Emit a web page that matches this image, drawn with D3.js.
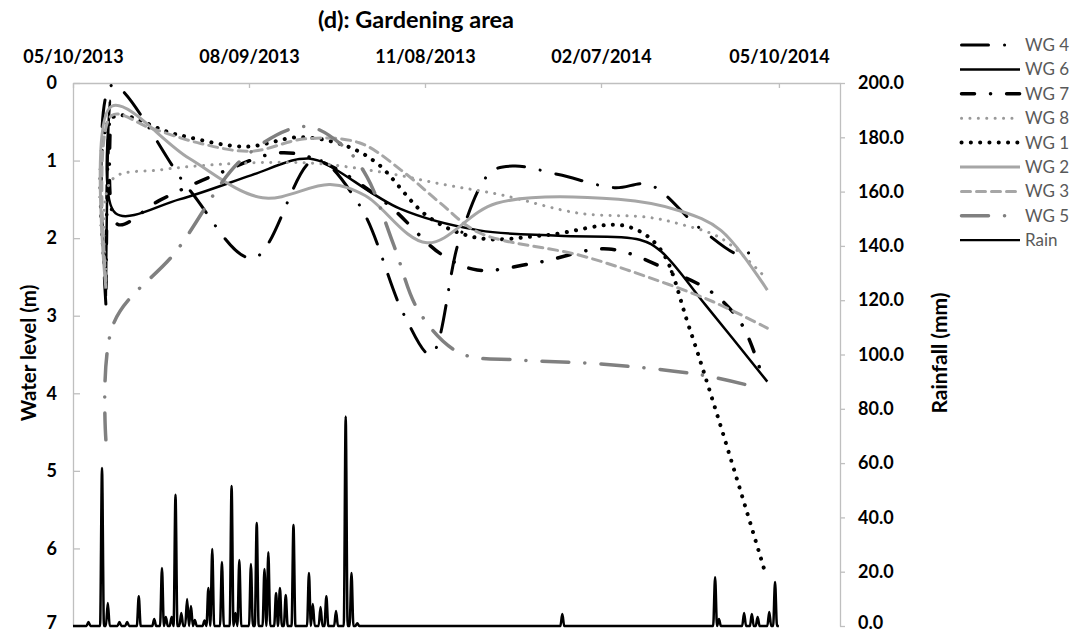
<!DOCTYPE html>
<html>
<head>
<meta charset="utf-8">
<script src="https://cdn.jsdelivr.net/npm/d3@7"></script>
<style>
  body { margin: 0; background: #fff; }
  svg { display: block; }
  text { font-family: Lato, "Open Sans", "DejaVu Sans", sans-serif; }
</style>
</head>
<body>
<svg id="chart" width="1082" height="632"></svg>
<script>
// ---- data -------------------------------------------------------------
const tickDates  = ["2013-05-10", "2013-08-09", "2013-11-08", "2014-02-07", "2014-05-10"];
const tickLabels = ["05/10/2013", "08/09/2013", "11/08/2013", "02/07/2014", "05/10/2014"];
const levelTicks = [0, 1, 2, 3, 4, 5, 6, 7];
const rainTicks  = [0, 20, 40, 60, 80, 100, 120, 140, 160, 180, 200];

// water level below ground (m), [date, level]
const wg4 = [["2013-05-27",2.85],["2013-05-30",0.03],["2013-07-09",1.37],["2013-08-11",2.26],
  ["2013-09-12",0.99],["2013-10-05",1.57],["2013-10-28",2.98],["2013-11-11",3.5],["2013-11-26",2.0],
  ["2013-12-12",1.15],["2013-12-24",1.07],["2014-01-16",1.18],["2014-02-14",1.35],["2014-03-04",1.31],
  ["2014-03-30",1.87],["2014-04-21",2.22],["2014-04-29",2.09]];
const wg6 = [["2013-05-27",2.75],["2013-05-29",0.23],["2013-06-01",1.68],["2013-07-04",1.5],
  ["2013-08-10",1.19],["2013-09-04",0.98],["2013-09-14",1.0],["2013-10-26",1.62],["2013-12-06",1.9],
  ["2014-01-16",1.97],["2014-02-27",2.02],["2014-03-10",2.17],["2014-04-02",2.86],["2014-05-04",3.85]];
const wg7 = [["2013-05-27",2.65],["2013-05-29",0.5],["2013-06-02",1.82],["2013-06-24",1.51],
  ["2013-07-25",1.16],["2013-08-25",0.9],["2013-09-16",1.02],["2013-10-19",1.55],["2013-11-16",2.2],
  ["2013-12-05",2.41],["2014-01-06",2.31],["2014-02-11",2.14],["2014-03-17",2.45],["2014-04-06",2.71],
  ["2014-04-21",3.12],["2014-05-02",3.83]];
const wg8 = [["2013-05-27",2.4],["2013-05-30",1.25],["2013-06-24",1.12],["2013-08-10",1.03],
  ["2013-09-14",1.04],["2013-10-19",1.16],["2013-11-18",1.31],["2013-12-17",1.44],["2014-01-27",1.68],
  ["2014-03-03",1.73],["2014-03-20",1.82],["2014-04-10",2.0],["2014-05-02",2.48]];
const wg1 = [["2013-05-27",2.55],["2013-05-30",0.45],["2013-07-02",0.66],["2013-08-07",0.82],
  ["2013-09-04",0.7],["2013-09-27",0.8],["2013-10-14",1.03],["2013-11-10",1.73],["2013-12-06",2.0],
  ["2014-01-10",1.96],["2014-02-19",1.84],["2014-03-09",2.12],["2014-03-25",3.18],["2014-05-03",6.32]];
const wg2 = [["2013-05-27",2.65],["2013-05-30",0.3],["2013-07-09",0.97],["2013-08-16",1.48],
  ["2013-09-20",1.31],["2013-10-08",1.45],["2013-11-09",2.06],["2013-12-15",1.55],["2014-02-16",1.5],
  ["2014-03-20",1.65],["2014-04-10",1.9],["2014-05-04",2.67]];
const wg3 = [["2013-05-27",2.55],["2013-05-30",0.42],["2013-06-19",0.58],["2013-07-15",0.78],
  ["2013-08-10",0.88],["2013-09-07",0.72],["2013-10-05",0.77],["2013-10-28",1.15],["2013-11-16",1.55],
  ["2013-12-06",1.93],["2014-01-27",2.22],["2014-03-03",2.5],["2014-04-06",2.82],["2014-05-04",3.16]];
const wg5 = [["2013-05-27",4.6],["2013-05-31",3.1],["2013-07-02",2.18],["2013-08-06",0.97],
  ["2013-09-07",0.56],["2013-09-27",0.82],["2013-10-09",1.21],["2013-10-23",2.1],["2013-11-05",2.95],
  ["2013-11-26",3.48],["2013-12-27",3.57],["2014-02-06",3.62],["2014-03-30",3.76],["2014-04-28",3.92]];

// daily rainfall (mm); days not listed were dry
const rainDates = ["2013-05-18","2013-05-25","2013-05-28","2013-06-03","2013-06-07","2013-06-13",
  "2013-06-21","2013-06-25","2013-06-27","2013-06-30","2013-07-02","2013-07-05","2013-07-08",
  "2013-07-10","2013-07-12","2013-07-17","2013-07-19","2013-07-21","2013-07-26","2013-07-31",
  "2013-08-02","2013-08-04","2013-08-10","2013-08-13","2013-08-17","2013-08-19","2013-08-23",
  "2013-08-25","2013-08-28","2013-09-01","2013-09-09","2013-09-11","2013-09-15","2013-09-18",
  "2013-09-23","2013-09-28","2013-10-01","2013-10-04","2014-01-18","2014-04-07","2014-04-09",
  "2014-04-22","2014-04-26","2014-04-29","2014-05-05","2014-05-08"];
const rainMm = [1.5,58.2,8.5,1.5,1.5,11,
  2.6,21.4,3.3,3.3,48.3,4.8,9.9,
  7.4,2.2,2,14,28.4,23.6,51.6,
  4.8,24.3,22.8,37.9,21,27.2,12.2,
  14,11.4,37.2,19.5,8.1,7,11,
  5.5,77.2,19.5,1,4.4,18,2.6,
  4.8,4.4,3.3,5.2,16.2];
const rainStart = "2013-05-10", rainEnd = "2014-05-10";

// ---- layout ------------------------------------------------------------
const svg = d3.select("#chart");
const parse = d3.utcParse("%Y-%m-%d");
const L = 73, R = 840, T = 83, B = 626;

const x = d3.scaleUtc()
  .domain([parse("2013-05-10"), new Date(Date.UTC(2014, 5, 10, 14))])
  .range([L, R]);
const yLevel = d3.scaleLinear().domain([0, 7]).range([T, B]);
const yRain = d3.scaleLinear().domain([0, 200]).range([B, T]);

const axisColor = "#bfbfbf";

// top date axis (ticks pointing into the plot)
const gx = svg.append("g").attr("transform", `translate(0,${T})`)
  .call(d3.axisTop(x)
    .tickValues(tickDates.map(parse))
    .tickFormat((d, i) => tickLabels[i])
    .tickSizeInner(-5).tickSizeOuter(0).tickPadding(20));
// left water-level axis
const gyl = svg.append("g").attr("transform", `translate(${L},0)`)
  .call(d3.axisLeft(yLevel).tickValues(levelTicks).tickFormat(d3.format("d"))
    .tickSizeInner(-7).tickSizeOuter(0).tickPadding(16));
// right rainfall axis
const gyr = svg.append("g").attr("transform", `translate(${R},0)`)
  .call(d3.axisRight(yRain).tickValues(rainTicks).tickFormat(d3.format(".1f"))
    .tickSizeInner(5).tickSizeOuter(0).tickPadding(13));

[gx, gyl, gyr].forEach(g => {
  g.select(".domain").attr("stroke", axisColor).attr("stroke-width", 1.3);
  g.selectAll(".tick line").attr("stroke", axisColor).attr("stroke-width", 1.3);
  g.selectAll(".tick text").attr("fill", "#000").attr("font-size", 18)
    .attr("font-weight", "bold").attr("font-family", "Lato, sans-serif");
});
// keep the labels at the bottom edge inside the page
gyl.selectAll(".tick text").filter(d => d === 7).attr("dy", "0.15em");
gyr.selectAll(".tick text").filter(d => d === 0).attr("dy", "0.15em");

// titles
svg.append("text").attr("x", 416).attr("y", 28).attr("text-anchor", "middle")
  .attr("font-size", 23.5).attr("font-weight", "bold").text("(d): Gardening area");
svg.append("text").attr("transform", "translate(36,353) rotate(-90)")
  .attr("text-anchor", "middle").attr("font-size", 20.5).attr("font-weight", "bold")
  .text("Water level (m)");
svg.append("text").attr("transform", "translate(947,353) rotate(-90)")
  .attr("text-anchor", "middle").attr("font-size", 21).attr("font-weight", "bold")
  .text("Rainfall (mm)");

// ---- series ------------------------------------------------------------
const series = [
  { name: "WG 4", data: wg4, color: "#000",    width: 3,   dash: "27 16 0.1 16" },
  { name: "WG 6", data: wg6, color: "#000",    width: 2.5, dash: null },
  { name: "WG 7", data: wg7, color: "#000",    width: 3.5, dash: "13 16 0.1 16" },
  { name: "WG 8", data: wg8, color: "#999999", width: 3,   dash: "0.1 8.3" },
  { name: "WG 1", data: wg1, color: "#000",    width: 4,   dash: "0.1 9.2" },
  { name: "WG 2", data: wg2, color: "#a6a6a6", width: 3,   dash: null },
  { name: "WG 3", data: wg3, color: "#a6a6a6", width: 3,   dash: "9 6" },
  { name: "WG 5", data: wg5, color: "#808080", width: 3.5, dash: "27 16 0.1 16" }
];

const levelLine = d3.line()
  .x(d => x(parse(d[0])))
  .y(d => yLevel(d[1]))
  .curve(d3.curveCatmullRom.alpha(0.5));

const plot = svg.append("g");
series.forEach(s => {
  plot.append("path")
    .attr("d", levelLine(s.data))
    .attr("fill", "none")
    .attr("stroke", s.color)
    .attr("stroke-width", s.width)
    .attr("stroke-linecap", s.dash ? "round" : "butt")
    .attr("stroke-linejoin", "round")
    .attr("stroke-dasharray", s.dash);
});

// rainfall as a daily series
const rainByDay = new Map(rainDates.map((d, i) => [d, rainMm[i]]));
const fmt = d3.utcFormat("%Y-%m-%d");
const rainDaily = d3.utcDay.range(parse(rainStart), d3.utcDay.offset(parse(rainEnd), 1))
  .map(d => [d, rainByDay.get(fmt(d)) || 0]);
const rainLine = d3.line()
  .x(d => x(d[0]))
  .y(d => yRain(d[1]))
  .curve(d3.curveMonotoneX);
plot.append("path")
  .attr("d", rainLine(rainDaily))
  .attr("fill", "none")
  .attr("stroke", "#000")
  .attr("stroke-width", 2.5)
  .attr("stroke-linejoin", "round");

// ---- legend ------------------------------------------------------------
const legendItems = series.concat([{ name: "Rain", color: "#000", width: 2.2, dash: null }]);
const lg = svg.append("g");
legendItems.forEach((s, i) => {
  const cy = 45 + i * 24.4;
  lg.append("line")
    .attr("x1", s.dash ? 961.5 : 960).attr("x2", 1020)
    .attr("y1", cy).attr("y2", cy)
    .attr("stroke", s.color).attr("stroke-width", s.width)
    .attr("stroke-linecap", s.dash ? "round" : "butt")
    .attr("stroke-dasharray", s.dash);
  lg.append("text")
    .attr("x", 1025).attr("y", cy).attr("dy", "0.35em")
    .attr("font-size", 17).attr("fill", "#595959")
    .text(s.name);
});
</script>
</body>
</html>
